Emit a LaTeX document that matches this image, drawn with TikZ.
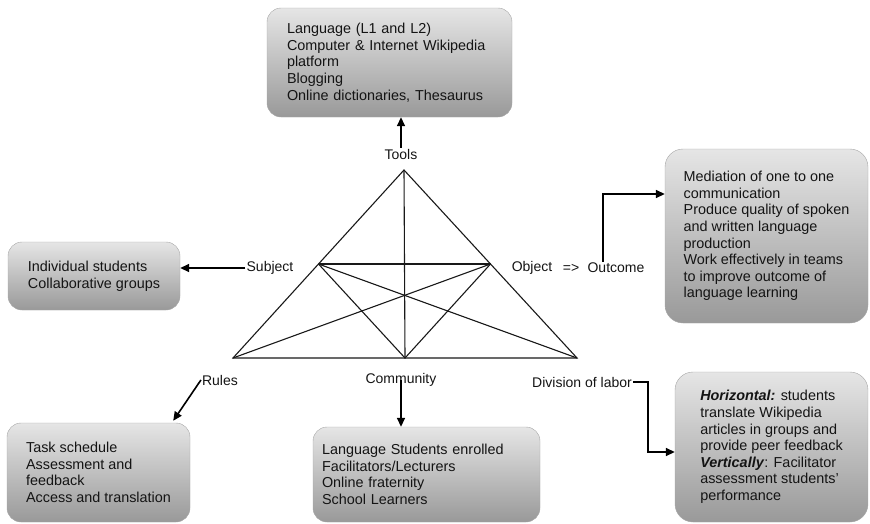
\documentclass[tikz,border=0pt]{standalone}
\usepackage{fontspec}
\setmainfont{Liberation Sans}
\usetikzlibrary{arrows.meta,positioning,calc}
\begin{document}
\begin{tikzpicture}[x=1pt,y=-1pt]
\tikzset{
    box/.style={draw=black!35, rounded corners=14pt, top color=black!10, bottom color=black!40,
        text=black!92, align=left, font=\fontsize{14.4}{16.6}\selectfont},
    lbl/.style={inner sep=1pt, text=black!92, font=\fontsize{14}{16}\selectfont},
    edge/.style={line width=1.1pt, black!90},
    arr/.style={line width=1.6pt, black, -{Triangle[length=9pt,width=8pt]}},
}
\useasboundingbox (0,0) rectangle (870,523);

\coordinate (tp) at (404,170); % tools corner
\coordinate (bl) at (233,358); % rules corner
\coordinate (br) at (577,358); % division corner
\coordinate (bm) at ($(bl)!0.5!(br)$); % community
\coordinate (sj) at ($(tp)!0.5!(bl)$); % subject
\coordinate (ob) at ($(tp)!0.5!(br)$); % object

% The outer triangle and the lines inside it.
\draw[edge] (tp) -- (bl) -- (br) -- cycle;
\draw[edge] (tp) -- (bm);
\draw[edge] (sj) -- (ob);
\draw[edge] (sj) -- (bm) -- (ob);
\draw[edge] (sj) -- (br);
\draw[edge] (ob) -- (bl);

% Labels at the corners.
\node[lbl] (tools) at (401,154) {Tools};
\node[lbl] (subject) at (270,268) {Subject};
\node[lbl] (object) at (532,268) {Object};
\node[lbl] (implies) at (571,268) {=>};
\node[lbl] (outcome) at (616,268) {Outcome};
\node[lbl] (rules) at (220,380) {Rules};
\node[lbl] (community) at (401,380) {Community};
\node[lbl] (division) at (582,382) {Division of labor};

% The boxes.
\node[box, minimum width=245pt, minimum height=109pt, text width=205pt] (toolbox) at (389.5,62.5)
    {Language (L1 and L2)\\Computer \& Internet Wikipedia\\platform\\Blogging\\Online dictionaries, Thesaurus};
\node[box, minimum width=172pt, minimum height=68pt] (subjbox) at (94,276)
    {Individual students\\Collaborative groups};
\node[box, minimum width=203pt, minimum height=174pt, rounded corners=18pt] (outbox) at (766.5,236)
    {Mediation of one to one\\communication\\Produce quality of spoken\\and written language\\production\\Work effectively in teams\\to improve outcome of\\language learning};
\node[box, minimum width=183pt, minimum height=99pt] (rulesbox) at (98.5,472.5)
    {Task schedule\\Assessment and\\feedback\\Access and translation};
\node[box, minimum width=227pt, minimum height=95pt, text width=209pt] (commbox) at (426.5,474.5)
    {Language Students enrolled\\Facilitators/Lecturers\\Online fraternity\\School Learners};
\node[box, minimum width=193pt, minimum height=150pt, rounded corners=18pt] (divbox) at (771.5,447)
    {\textbf{\textit{Horizontal:}} students\\translate Wikipedia\\articles in groups and\\provide peer feedback\\\textbf{\textit{Vertically}}: Facilitator\\assessment students'\\performance};

% Arrows from the labels to their boxes.
\coordinate (outbend) at (603,194);
\coordinate (divbend) at (648,452);
\draw[arr] (tools.north) -- (tools.north |- toolbox.south);
\draw[arr] (subject.west) -- (subjbox.east |- subject.west);
\draw[arr] ([xshift=-13pt]outcome.north) -- (outbend) -- (outbox.west |- outbend);
\draw[arr] (rules.west) -- ([xshift=-17pt,yshift=2pt]rulesbox.north east);
\draw[arr] (community.center) -- (community.center |- commbox.north);
\draw[arr] (division.east) -| (divbend) -- (divbox.west |- divbend);
\end{tikzpicture}
\end{document}
